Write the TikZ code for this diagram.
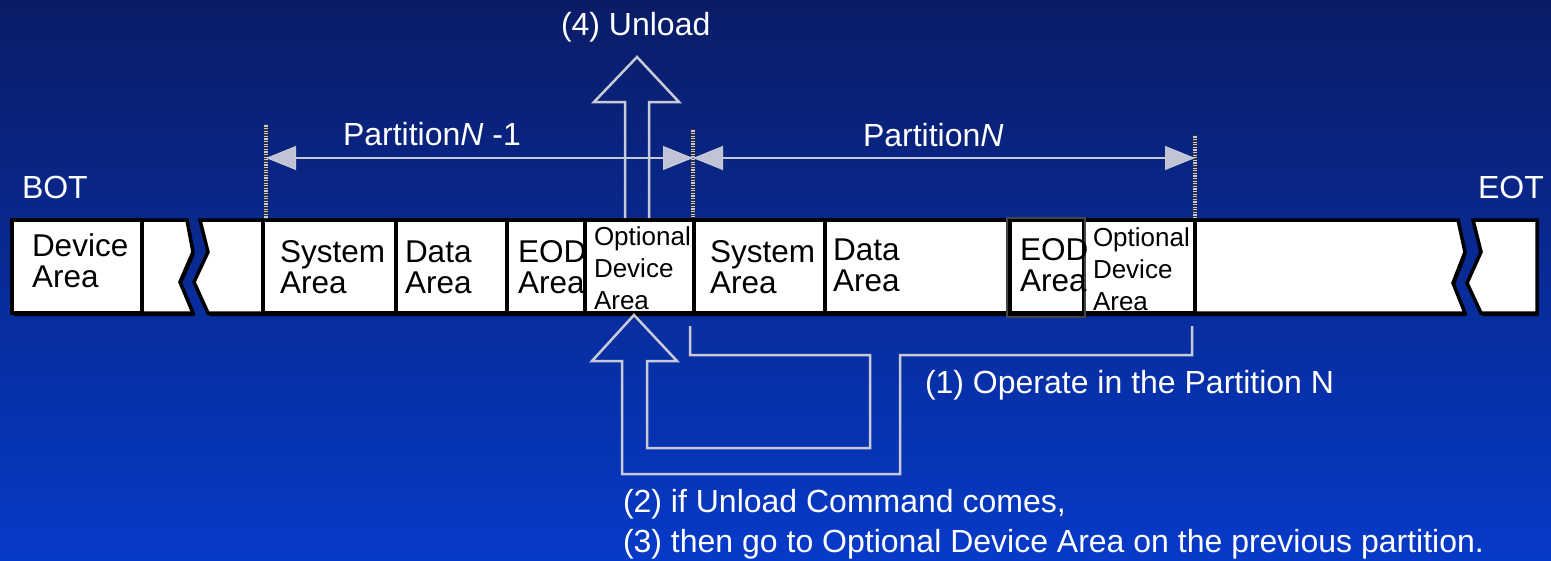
\documentclass[tikz,border=0pt]{standalone}
\usepackage{fontspec}
\setmainfont{Liberation Sans}
\usetikzlibrary{arrows.meta}

\definecolor{bgtop}{RGB}{10,28,102}
\definecolor{bgbot}{RGB}{6,58,200}
\definecolor{guide}{RGB}{200,202,214}
\definecolor{tipfill}{RGB}{192,196,214}
\definecolor{framegray}{RGB}{70,70,70}

% multi-line cell text whose reference point is the first baseline
\newcommand\cellstack[1]{\parbox[t]{300pt}{#1}}

\tikzset{
  whitetxt/.style={anchor=base west, inner sep=0pt, outer sep=0pt, text=white,
    font=\fontsize{32}{33}\selectfont},
  celltxt/.style={anchor=base west, inner sep=0pt, outer sep=0pt, text=black,
    font=\fontsize{31.5}{31.5}\selectfont},
  smallcelltxt/.style={anchor=base west, inner sep=0pt, outer sep=0pt, text=black,
    font=\fontsize{26}{32}\selectfont},
  cellbox/.style={rectangle, draw=black, fill=white, line width=3.5pt,
    inner sep=0pt, outer sep=0pt, anchor=north west, minimum height=93pt},
  cellpath/.style={draw=black, fill=white, line width=3.5pt, line join=miter},
  tapeshadow/.style={fill=black, shift={(1.5,3)}},
  guideline/.style={draw=guide, line width=2.5pt, line join=miter},
  dimline/.style={draw=guide, line width=2.5pt,
    {Triangle[length=30pt,width=24pt,fill=tipfill,line width=1pt]}-{Triangle[length=30pt,width=24pt,fill=tipfill,line width=1pt]}},
  tickmark/.style={draw=black!80, line width=4.5pt, dash pattern=on 1.3pt off 1.3pt,
    preaction={draw=guide, solid, line width=4.5pt}},
}

\begin{document}
\begin{tikzpicture}[x=1pt,y=-1pt]
  \useasboundingbox (0,0) rectangle (1551,560);
  \shade[top color=bgtop, bottom color=bgbot] (0,0) rectangle (1551,560);

  % ---- shadows under the three tape segments
  \fill[tapeshadow] (12,220) -- (187,220) -- (193,252) -- (180,282) -- (193,313) -- (12,313) -- cycle;
  \fill[tapeshadow] (200,220) -- (1458,220) -- (1465,252) -- (1453,283) -- (1465,313)
      -- (208,313) -- (194,282) -- (208,252) -- cycle;
  \fill[tapeshadow] (1473,220) -- (1537,220) -- (1537,313) -- (1481,313) -- (1467,283) -- (1481,252) -- cycle;

  % ---- tape cells
  \node[cellbox, minimum width={142-12}] (dev) at (12,220) {};
  \draw[cellpath] (142,220) -- (187,220) -- (193,252) -- (180,282) -- (193,313) -- (142,313) -- cycle;
  \draw[cellpath] (200,220) -- (263,220) -- (263,313) -- (208,313) -- (194,282) -- (208,252) -- cycle;
  \node[cellbox, minimum width={396-263}] (sys1) at (263,220) {};
  \node[cellbox, minimum width={507-396}] (dat1) at (396,220) {};
  \node[cellbox, minimum width={585-507}] (eod1) at (507,220) {};
  \node[cellbox, minimum width={694-585}] (opt1) at (585,220) {};
  \node[cellbox, minimum width={825-694}] (sys2) at (694,220) {};
  \node[cellbox, minimum width={1010-825}] (dat2) at (825,220) {};
  \node[cellbox, minimum width={1084-1010}] (eod2) at (1010,220) {};
  \node[cellbox, minimum width={1195-1084}] (opt2) at (1084,220) {};
  \draw[cellpath] (1195,220) -- (1458,220) -- (1465,252) -- (1453,283) -- (1465,313) -- (1195,313) -- cycle;
  \draw[cellpath] (1473,220) -- (1537,220) -- (1537,313) -- (1481,313) -- (1467,283) -- (1481,252) -- cycle;
  \draw[framegray, line width=1.2pt] ([shift={(-3,-2)}]eod2.north west) rectangle ([shift={(1,4)}]eod2.south east);

  % ---- cell labels
  \node[celltxt] (devt)  at (32,256)  {\cellstack{Device\\Area}};
  \node[celltxt] (sys1t) at (280,262) {\cellstack{System\\Area}};
  \node[celltxt] (dat1t) at (405,262) {\cellstack{Data\\Area}};
  \node[celltxt] (eod1t) at (518,262) {\cellstack{EOD\\Area}};
  \node[smallcelltxt] (opt1t) at (594,245) {\cellstack{Optional\\Device\\Area}};
  \node[celltxt] (sys2t) at (710,262) {\cellstack{System\\Area}};
  \node[celltxt] (dat2t) at (833,260) {\cellstack{Data\\Area}};
  \node[celltxt] (eod2t) at (1020,260) {\cellstack{EOD\\Area}};
  \node[smallcelltxt] (opt2t) at (1093,246) {\cellstack{Optional\\Device\\Area}};

  % ---- tape ends
  \node[whitetxt] (bot) at (22,198) {BOT};
  \node[whitetxt] (eot) at (1478,198) {EOT};

  % ---- partition boundaries
  \coordinate (mk1t) at (266,124);  \coordinate (mk1b) at (266,218);
  \coordinate (mk2t) at (693,129);  \coordinate (mk2b) at (693,218);
  \coordinate (mk3t) at (1195,135); \coordinate (mk3b) at (1195,218);
  \draw[tickmark] (mk1t) -- (mk1b);
  \draw[tickmark] (mk2t) -- (mk2b);
  \draw[tickmark] (mk3t) -- (mk3b);

  % ---- unload arrow (drawn before the dimension lines, which cross it)
  \draw[guideline] (625,218) -- (625,102) -- (594,102) -- (637,57) -- (679,102) -- (649,102) -- (649,218);

  \coordinate (p1l) at (266,158); \coordinate (p1r) at (693,158);
  \coordinate (p2l) at (693,158); \coordinate (p2r) at (1195,158);
  \draw[dimline] (p1l) -- (p1r);
  \draw[dimline] (p2l) -- (p2r);
  \node[whitetxt] (partA) at (343,145) {Partition\textit{N} -1};
  \node[whitetxt] (partB) at (863,146) {Partition\textit{N}};

  % ---- return path into the optional device area
  \draw[guideline] (690,326) -- (690,355) -- (870,355) -- (870,448) -- (647,448) -- (647,361)
      -- (677,361) -- (634,315) -- (592,361) -- (622,361) -- (622,474) -- (900,474)
      -- (900,355) -- (1192,355) -- (1192,326);

  % ---- captions
  \node[whitetxt] (unload) at (561,35) {(4) Unload};
  \node[whitetxt] (step1) at (925,393) {(1) Operate in the Partition N};
  \node[whitetxt] (step2) at (623,512) {(2) if Unload Command comes,};
  \node[whitetxt] (step3) at (623,552) {(3) then go to Optional Device Area on the previous partition.};
\end{tikzpicture}
\end{document}
